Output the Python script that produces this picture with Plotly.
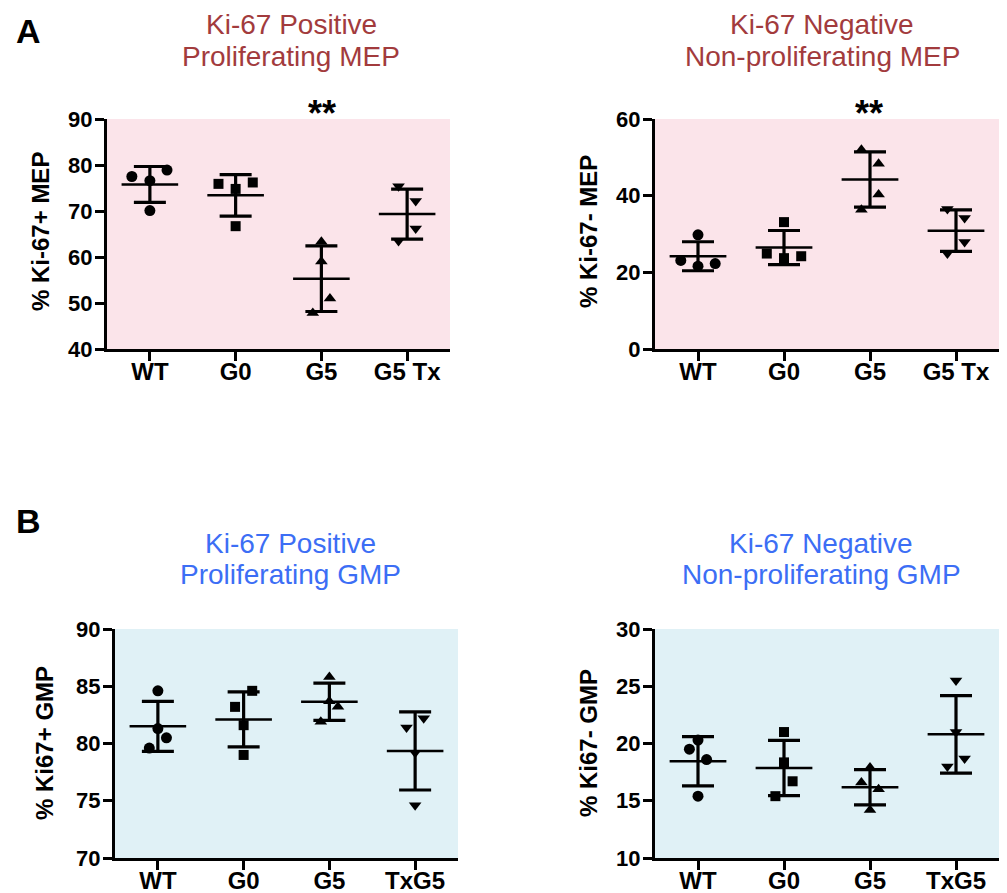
import numpy as np
import plotly.graph_objects as go

# ---------------- data ----------------
mep_groups = ["WT", "G0", "G5", "G5 Tx"]
gmp_groups = ["WT", "G0", "G5", "TxG5"]

# % Ki-67+ MEP (panel A left)
mep_pos_wt = [77.5, 76.6, 78.9, 70.1]
mep_pos_g0 = [75.9, 74.8, 76.2, 66.7]
mep_pos_g5 = [63.3, 59.0, 51.0, 47.8]
mep_pos_g5tx = [75.4, 72.2, 66.2, 63.5]

# % Ki-67- MEP (panel A right)
mep_neg_wt = [29.8, 23.1, 21.6, 22.3]
mep_neg_g0 = [33.1, 24.9, 23.7, 24.2]
mep_neg_g5 = [52.0, 48.3, 40.3, 36.3]
mep_neg_g5tx = [36.5, 34.2, 27.9, 24.9]

# % Ki67+ GMP (panel B left)
gmp_pos_wt = [84.6, 81.3, 80.5, 79.6]
gmp_pos_g0 = [84.6, 83.2, 81.6, 79.0]
gmp_pos_g5 = [85.8, 83.7, 83.2, 81.9]
gmp_pos_txg5 = [82.2, 81.4, 79.2, 74.6]

# % Ki67- GMP (panel B right)
gmp_neg_wt = [20.3, 19.5, 18.6, 15.4]
gmp_neg_g0 = [21.0, 18.35, 16.7, 15.4]
gmp_neg_g5 = [17.9, 16.6, 16.0, 14.2]
gmp_neg_txg5 = [25.5, 21.0, 18.7, 18.0]

# ---------------- styling ----------------
FONT = "Liberation Sans, Arial, Helvetica, sans-serif"
PINK_BG = "#fbe4ea"
BLUE_BG = "#e0f1f6"
RED_TITLE = "#a23b3d"
BLUE_TITLE = "#3c6ef5"
symbols = ["circle", "square", "triangle-up", "triangle-down"]
msizes = [11, 10, 11, 11]

# horizontal spread of points within a column (category units)
spread_a_left = [[-0.21, 0, 0.2, 0], [-0.2, 0, 0.2, 0], [0, 0, 0.1, -0.1], [-0.1, 0.1, 0.1, -0.1]]
spread_a_right = [[0, -0.2, 0, 0.2], [0, -0.2, 0, 0.2], [-0.1, 0.1, 0.1, -0.1], [-0.1, 0.1, 0.1, -0.1]]
spread_b_left = [[0, 0, 0.1, -0.1], [0.1, -0.1, 0, 0], [0, 0, 0.1, -0.1], [0.1, -0.1, 0, 0]]
spread_b_right = [[0, -0.1, 0.1, 0], [0, 0, 0.1, -0.1], [0, -0.1, 0.1, 0], [0, 0, 0.1, -0.1]]

W, H = 1007, 893

panels = [
    dict(ax="", data=[mep_pos_wt, mep_pos_g0, mep_pos_g5, mep_pos_g5tx], groups=mep_groups,
         spread=spread_a_left, xd=(107, 450), yd=(119, 349), yr=(40, 90), dt=10, bg=PINK_BG),
    dict(ax="2", data=[mep_neg_wt, mep_neg_g0, mep_neg_g5, mep_neg_g5tx], groups=mep_groups,
         spread=spread_a_right, xd=(655, 999), yd=(119, 349), yr=(0, 60), dt=20, bg=PINK_BG),
    dict(ax="3", data=[gmp_pos_wt, gmp_pos_g0, gmp_pos_g5, gmp_pos_txg5], groups=gmp_groups,
         spread=spread_b_left, xd=(115, 458), yd=(629, 858), yr=(70, 90), dt=5, bg=BLUE_BG),
    dict(ax="4", data=[gmp_neg_wt, gmp_neg_g0, gmp_neg_g5, gmp_neg_txg5], groups=gmp_groups,
         spread=spread_b_right, xd=(655, 999), yd=(629, 858), yr=(10, 30), dt=5, bg=BLUE_BG),
]

fig = go.Figure()
shapes = []
layout_axes = {}

for p in panels:
    ax = p["ax"]
    xref = "x" + ax
    yref = "y" + ax
    for gi, vals in enumerate(p["data"]):
        vals = np.array(vals, dtype=float)
        xs = [gi + d for d in p["spread"][gi]]
        fig.add_trace(go.Scatter(
            x=xs, y=vals, mode="markers", xaxis=xref, yaxis=yref,
            marker=dict(symbol=symbols[gi], size=msizes[gi], color="black", line=dict(width=0)),
            cliponaxis=False, showlegend=False, hoverinfo="y"))
        m = vals.mean()
        sd = vals.std(ddof=1)
        # mean line
        fig.add_trace(go.Scatter(
            x=[gi - 0.33, gi + 0.33], y=[m, m], mode="lines", xaxis=xref, yaxis=yref,
            line=dict(color="black", width=2.5), cliponaxis=False, showlegend=False, hoverinfo="skip"))
        # SD error bar
        fig.add_trace(go.Scatter(
            x=[gi], y=[m], mode="markers", xaxis=xref, yaxis=yref,
            marker=dict(size=1, color="rgba(0,0,0,0)"),
            error_y=dict(type="data", array=[sd], visible=True, color="black", thickness=3.2, width=16),
            cliponaxis=False, showlegend=False, hoverinfo="skip"))

    shapes.append(dict(type="rect", xref=xref + " domain", yref=yref + " domain",
                       x0=0, x1=1, y0=0, y1=1, fillcolor=p["bg"], line=dict(width=0), layer="below"))

    xname = "xaxis" + ax
    yname = "yaxis" + ax
    layout_axes[xname] = dict(
        domain=[p["xd"][0] / W, p["xd"][1] / W], anchor=yref, range=[-0.5, 3.5],
        tickvals=[0, 1, 2, 3], ticktext=p["groups"], automargin=False,
        showline=True, linecolor="black", linewidth=3, ticks="outside", ticklen=9,
        tickwidth=3, tickcolor="black", showgrid=False, zeroline=False,
        ticklabelstandoff=-10,
        tickfont=dict(family=FONT, size=24, color="black", weight="bold"), fixedrange=True)
    layout_axes[yname] = dict(
        domain=[1 - p["yd"][1] / H, 1 - p["yd"][0] / H], anchor=xref, range=list(p["yr"]),
        dtick=p["dt"], tick0=p["yr"][0], automargin=False,
        showline=True, linecolor="black", linewidth=3, ticks="outside", ticklen=9,
        tickwidth=3, tickcolor="black", showgrid=False, zeroline=False,
        ticklabelstandoff=-2,
        tickfont=dict(family=FONT, size=22, color="black", weight="bold"), fixedrange=True)

annotations = []


def txt(x, y, s, size, color="black", bold=False, angle=0):
    annotations.append(dict(
        x=x / W, y=1 - y / H, xref="paper", yref="paper", text=s, showarrow=False,
        xanchor="center", yanchor="middle", textangle=angle,
        font=dict(family=FONT, size=size, color=color, weight="bold" if bold else "normal")))


# panel letters
txt(28, 31, "A", 34, bold=True)
txt(28, 521, "B", 34, bold=True)

# panel titles
txt(291, 25, "Ki-67 Positive", 28, RED_TITLE)
txt(291, 56, "Proliferating MEP", 28, RED_TITLE)
txt(822, 25, "Ki-67 Negative", 28, RED_TITLE)
txt(822, 56, "Non-proliferating MEP", 28, RED_TITLE)
txt(290, 543, "Ki-67 Positive", 28, BLUE_TITLE)
txt(290, 574, "Proliferating GMP", 28, BLUE_TITLE)
txt(821, 543, "Ki-67 Negative", 28, BLUE_TITLE)
txt(821, 574, "Non-proliferating GMP", 28, BLUE_TITLE)

# y-axis titles
txt(40, 232, "% Ki-67+ MEP", 24, bold=True, angle=-90)
txt(588, 232, "% Ki-67- MEP", 24, bold=True, angle=-90)
txt(44, 743, "% Ki67+ GMP", 24, bold=True, angle=-90)
txt(588, 743, "% Ki67- GMP", 24, bold=True, angle=-90)

# significance marks
txt(322, 114, "**", 36, bold=True)
txt(869, 114, "**", 36, bold=True)

fig.update_layout(
    template="none",
    width=W, height=H, margin=dict(l=0, r=0, t=0, b=0, autoexpand=False),
    paper_bgcolor="white", plot_bgcolor="rgba(0,0,0,0)",
    showlegend=False, shapes=shapes, annotations=annotations,
    font=dict(family=FONT, color="black"),
    **layout_axes)

fig.write_html(
    "out.html",
    config={"displayModeBar": False},
    post_script="document.body.style.margin='0px';document.body.style.padding='0px';",
)
